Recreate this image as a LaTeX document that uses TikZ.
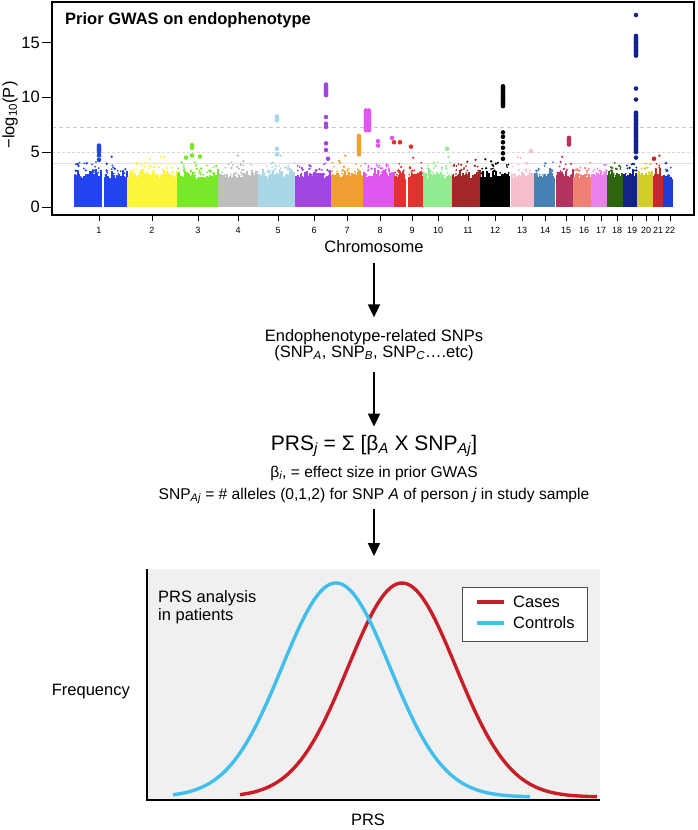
\documentclass[tikz,border=0pt]{standalone}
\usepackage{fontspec}
\setmainfont{Liberation Sans}
\usepackage{xcolor}
\usepackage{tikz}
\usetikzlibrary{arrows.meta,positioning}
\definecolor{cr1}{RGB}{33,68,240}
\definecolor{cr2}{RGB}{252,245,60}
\definecolor{cr3}{RGB}{120,232,40}
\definecolor{cr4}{RGB}{190,190,190}
\definecolor{cr5}{RGB}{170,215,230}
\definecolor{cr6}{RGB}{160,70,225}
\definecolor{cr7}{RGB}{240,160,50}
\definecolor{cr8}{RGB}{225,85,240}
\definecolor{cr9}{RGB}{225,50,45}
\definecolor{cr10}{RGB}{145,235,145}
\definecolor{cr11}{RGB}{165,40,40}
\definecolor{cr12}{RGB}{0,0,0}
\definecolor{cr13}{RGB}{245,190,205}
\definecolor{cr14}{RGB}{70,130,180}
\definecolor{cr15}{RGB}{180,50,95}
\definecolor{cr16}{RGB}{240,128,114}
\definecolor{cr17}{RGB}{235,130,235}
\definecolor{cr18}{RGB}{45,100,15}
\definecolor{cr19}{RGB}{20,35,140}
\definecolor{cr20}{RGB}{210,205,40}
\definecolor{cr21}{RGB}{200,40,40}
\definecolor{cr22}{RGB}{30,60,210}
\definecolor{vermelhocaso}{RGB}{200,30,40}
\definecolor{azulcontrole}{RGB}{65,190,235}
\definecolor{cinzafundo}{RGB}{240,240,240}
\definecolor{cinzalinha}{RGB}{200,200,200}
\newcommand{\baixo}[1]{\textsubscript{\itshape #1}}
\tikzset{
  texto/.style={font=\fontsize{16.5}{15.5}\selectfont,inner sep=0pt},
  textomedio/.style={font=\fontsize{15.6}{17}\selectfont,inner sep=0pt},
  textogrande/.style={font=\fontsize{21}{24}\selectfont,inner sep=0pt},
  numero/.style={font=\fontsize{9}{10}\selectfont,inner sep=0pt},
  seta/.style={-{Triangle[length=13pt,width=12pt]},line width=2pt},
  curva/.style={line width=3.4pt,line join=round},
  limiar/.style={line width=0.8pt,dash pattern=on 4pt off 3pt}
}
\pgfmathsetseed{7}

\begin{document}
\begin{tikzpicture}[x=1pt,y=-1pt]
\useasboundingbox (0,0) rectangle (697,830);
\begin{scope}[shift={(0,207)},y=10.97pt]
\draw[limiar,cinzalinha] (52,7.3) -- (694,7.3);
\draw[limiar,cinzalinha!70,dash pattern=on 3pt off 2pt] (52,5) -- (694,5);
\draw[line width=0.6pt,cinzalinha!50] (52,4) -- (694,4);
\foreach \xa/\xb/\cor in {75/101/cr1,105/127/cr1,128/177/cr2,178/218/cr3,219/258/cr4,
  259/295/cr5,296/331/cr6,332/363/cr7,364/394/cr8,395/405/cr9,409/423/cr9,424/452/cr10,
  453/480/cr11,481/509/cr12,512/533/cr13,535/554/cr14,557/573/cr15,574/581/cr16,
  583/591/cr16,592/607/cr17,608/623/cr18,624/637/cr19,638/652/cr20,654/662/cr21,664/672/cr22}{
  \foreach \xx in {\xa,...,\xb}{
    \pgfmathsetmacro\alt{2.5+0.5*rnd+0.6*rnd^3}
    \draw[\cor,line width=1.05pt] (\xx,0) -- (\xx,\alt);
  }
  \pgfmathtruncatemacro\n{(\xb-\xa)*0.6+1}
  \foreach \k in {1,...,\n}{
    \pgfmathsetmacro\px{\xa+rnd*(\xb-\xa)}
    \pgfmathsetmacro\py{2.9+1.2*rnd^2}
    \fill[\cor] (\px,\py) circle (1pt);
  }
  \pgfmathtruncatemacro\n{(\xb-\xa)/5+1}
  \foreach \k in {1,...,\n}{
    \pgfmathsetmacro\px{\xa+rnd*(\xb-\xa)}
    \pgfmathsetmacro\py{3.3+1.4*rnd^2.5}
    \fill[\cor] (\px,\py) circle (1.3pt);
  }
}
\foreach \px/\va/\vb/\cor in {99/5.0/5.7/cr1,192/5.4/5.7/cr3,277/7.9/8.3/cr5,326/10.2/11.2/cr6,
  359/4.8/6.5/cr7,366/7.0/8.8/cr8,369/7.0/8.8/cr8,503/9.2/11.1/cr12,569/5.7/6.3/cr15,
  636/13.8/15.6/cr19,636/5.0/8.7/cr19}{
  \pgfmathsetmacro\passo{\va+0.12}
  \foreach \v in {\va,\passo,...,\vb}
    \fill[\cor] (\px,\v) circle (2.3pt);
}
\foreach \px/\v/\cor in {99/4.7/cr1,99/4.3/cr1,192/4.7/cr3,186/4.5/cr3,200/4.6/cr3,
  277/5.3/cr5,277/4.8/cr5,326/8.2/cr6,326/7.6/cr6,326/7.3/cr6,326/5.8/cr6,326/5.2/cr6,
  328/4.4/cr6,378/6.0/cr8,378/5.6/cr8,392/6.3/cr8,394/5.9/cr9,400/5.9/cr9,411/5.5/cr9,
  447/5.3/cr10,503/6.8/cr12,503/6.4/cr12,503/5.9/cr12,503/5.4/cr12,503/4.9/cr12,
  503/4.4/cr12,531/5.1/cr13,636/17.5/cr19,636/10.8/cr19,636/9.8/cr19,636/4.5/cr19,
  654/4.4/cr21}
  \fill[\cor] (\px,\v) circle (2.3pt);
\foreach \v in {0,5,10,15}{
  \draw[line width=1pt] (42,\v) -- (52,\v);
  \node[texto,anchor=east] (y\v) at (40,\v) {\v};
}
\end{scope}
\draw[line width=2pt] (52,2) rectangle (694,215);
\foreach \n/\x in {1/99,2/152,3/198,4/238,5/278,6/314,7/347,8/380,9/412,10/438,11/468,
  12/495,13/522,14/545,15/566,16/584,17/601,18/617,19/632,20/646,21/658,22/670}{
  \draw[line width=1pt] (\x,215) -- (\x,221);
  \node[numero] (cr\n) at (\x,230) {\n};
}
\node[texto,font=\fontsize{16.5}{20}\selectfont\bfseries,anchor=west] (titulo) at (65,20) {Prior GWAS on endophenotype};
\node[texto,rotate=90] (eixoy) at (10,115) {−log\textsubscript{10}(P)};
\node[texto] (eixox) at (374,247) {Chromosome};

\node[texto,align=center] (snps) at (374,345) {Endophenotype-related SNPs\\(SNP\baixo{A}, SNP\baixo{B}, SNP\baixo{C}….etc)};
\node[textogrande,anchor=base] (formula) at (374,450) {PRS\baixo{j} = Σ [β\baixo{A} X SNP\baixo{Aj}]};
\node[textomedio,anchor=base] (beta) at (374,477) {β\baixo{i}, = effect size in prior GWAS};
\node[textomedio,anchor=base] (alelos) at (374,499) {SNP\baixo{Aj} = \# alleles (0,1,2) for SNP \textit{A} of person \textit{j} in study sample};

\node[fill=cinzafundo,minimum width=453pt,minimum height=231pt,inner sep=0pt,anchor=north west] (grafico) at (147,569) {};
\draw[seta,shorten <=10pt,shorten >=12pt] (eixox.south) -- (snps.north);
\draw[seta,shorten <=11pt,shorten >=8pt] (snps.south) -- (formula.north);
\draw[seta,shorten <=5pt,shorten >=13pt] (alelos.south) -- (alelos.south |- grafico.north);

\draw[curva,vermelhocaso] plot[domain=240:597,samples=120] (\x,{797-214*exp(-0.5*((\x-402)/54)^2)});
\draw[curva,azulcontrole] plot[domain=173:530,samples=120] (\x,{797-214*exp(-0.5*((\x-336)/54)^2)});
\draw[line width=2pt] (grafico.north west) -- (grafico.south west) -- (grafico.south east);
\node[texto,align=left,anchor=north west,font=\fontsize{16.5}{18}\selectfont] (analise) at (158,590) {PRS analysis\\in patients};
\node[draw=black!70,fill=white,line width=1pt,minimum width=125pt,minimum height=54pt,inner sep=0pt,anchor=north west] (legenda) at (462,587) {};
\draw[curva,vermelhocaso,line width=4pt] (477,602) -- (504,602);
\draw[curva,azulcontrole,line width=4pt] (477,623) -- (504,623);
\node[texto,anchor=west] (casos) at (513,602) {Cases};
\node[texto,anchor=west] (controles) at (513,623) {Controls};
\node[texto,anchor=east] (freq) at (130,692) {Frequency};
\node[texto] (prs) at (368,820) {PRS};
\end{tikzpicture}
\end{document}
